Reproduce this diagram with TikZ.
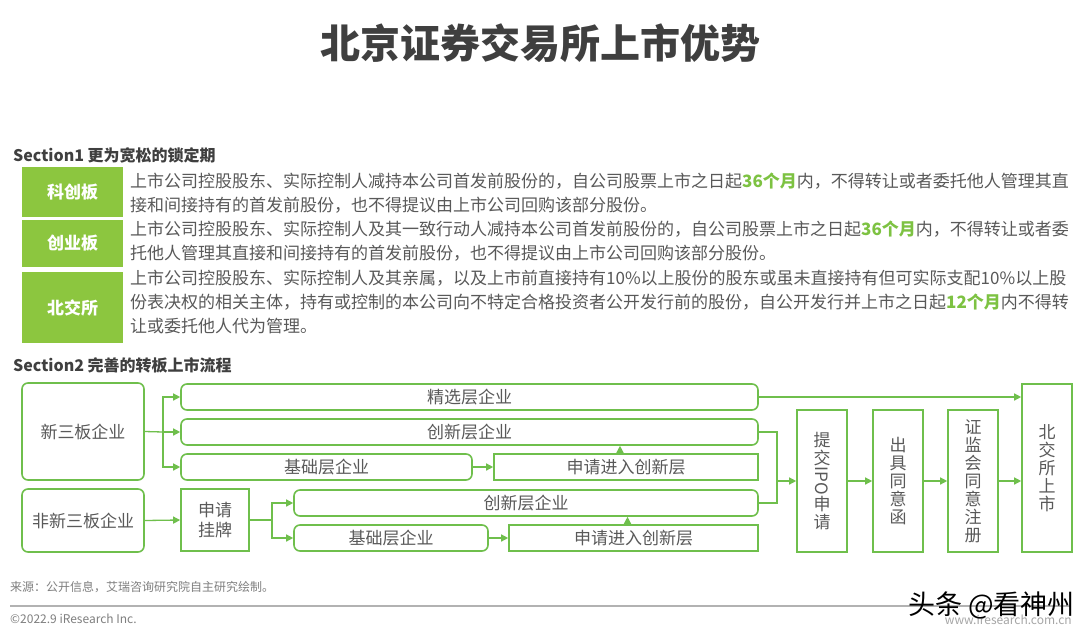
\documentclass[tikz,border=0pt]{standalone}
\usepackage{fontspec}
\setmainfont{Noto Sans CJK SC}
\usepackage{xcolor}
\usepackage{tikz}
\usetikzlibrary{arrows.meta}

\definecolor{titlegray}{HTML}{3F3F3F}
\definecolor{textgray}{HTML}{595959}
\definecolor{tabgreen}{HTML}{8CC63F}
\definecolor{linegreen}{HTML}{6FBF4C}
\definecolor{numgreen}{HTML}{7DC242}
\definecolor{footgray}{HTML}{7F7F7F}

\newcommand{\mesi}[1]{{\bfseries\color{numgreen}#1}}

\tikzset{
    boxr/.style={draw=linegreen, line width=1.6pt, rounded corners=6pt, text=textgray,
        font=\fontsize{17}{20}\selectfont, inner sep=0pt, minimum height=26pt},
    boxq/.style={boxr, rounded corners=0pt},
    vbox/.style={boxq, minimum width=50pt, minimum height=142pt, align=center,
        font=\fontsize{17}{18}\selectfont},
    tag/.style={fill=tabgreen, text=white, font=\bfseries\fontsize{17}{20}\selectfont,
        minimum width=101pt, inner sep=0pt},
    para/.style={anchor=west, align=left, text=textgray, font=\fontsize{17}{24}\selectfont, inner sep=0pt},
    freccia/.style={draw=linegreen, line width=1.3pt, -{Triangle[length=7pt,width=7pt]}},
    linea/.style={draw=linegreen, line width=1.3pt}
}

\begin{document}
\begin{tikzpicture}[x=1pt, y=-1pt]
    \useasboundingbox[fill=white] (0,0) rectangle (1080,641);

    % Titolo
    \node[text=titlegray, font=\bfseries\fontsize{40}{44}\selectfont] (titolo) at (540,43) {北京证券交易所上市优势};

    % Sezione 1
    \node[anchor=west, text=titlegray, font=\bfseries\fontsize{16}{18}\selectfont, inner sep=0pt] (sez1) at (13,155) {Section1 更为宽松的锁定期};
    \node[tag, minimum height=50pt] (kc) at (72.5,192) {科创板};
    \node[tag, minimum height=47pt] (cy) at (72.5,243.5) {创业板};
    \node[tag, minimum height=71pt] (bs) at (72.5,307.5) {北交所};
    \node[para] (tkc) at (130,193) {上市公司控股股东、实际控制人减持本公司首发前股份的，自公司股票上市之日起\mesi{36个月}内，不得转让或者委托他人管理其直\\接和间接持有的首发前股份，也不得提议由上市公司回购该部分股份。};
    \node[para] (tcy) at (130,241.5) {上市公司控股股东、实际控制人及其一致行动人减持本公司首发前股份的，自公司股票上市之日起\mesi{36个月}内，不得转让或者委\\托他人管理其直接和间接持有的首发前股份，也不得提议由上市公司回购该部分股份。};
    \node[para] (tbs) at (130,302) {上市公司控股股东、实际控制人及其亲属，以及上市前直接持有10\%以上股份的股东或虽未直接持有但可实际支配10\%以上股\\份表决权的相关主体，持有或控制的本公司向不特定合格投资者公开发行前的股份，自公开发行并上市之日起\mesi{12个月}内不得转\\让或委托他人代为管理。};

    % Sezione 2
    \node[anchor=west, text=titlegray, font=\bfseries\fontsize{16}{18}\selectfont, inner sep=0pt] (sez2) at (13,365) {Section2 完善的转板上市流程};
    \node[boxr, minimum width=122pt, minimum height=97pt] (xsb) at (83,431.5) {新三板企业};
    \node[boxr, minimum width=122pt, minimum height=63pt] (fxsb) at (83,520.5) {非新三板企业};
    \node[boxr, minimum width=577pt] (jxc) at (469.5,397) {精选层企业};
    \node[boxr, minimum width=577pt] (cxc1) at (469.5,432) {创新层企业};
    \node[boxr, minimum width=291pt] (jcc1) at (326.5,467) {基础层企业};
    \node[boxq, minimum width=264pt] (sq1) at (626,467) {申请进入创新层};
    \node[boxq, minimum width=68pt, minimum height=62pt, align=center] (gp) at (215,520) {申请\\挂牌};
    \node[boxr, minimum width=464pt] (cxc2) at (526,503) {创新层企业};
    \node[boxr, minimum width=194pt] (jcc2) at (391,538) {基础层企业};
    \node[boxq, minimum width=249pt] (sq2) at (633.5,538) {申请进入创新层};
    \node[vbox] (ipo) at (822,481) {提\\交\\\rotatebox[origin=c]{-90}{IPO}\\申\\请};
    \node[vbox] (cj) at (898,481) {出\\具\\同\\意\\函};
    \node[vbox] (zj) at (973,481) {证\\监\\会\\同\\意\\注\\册};
    \node[vbox, minimum height=168pt] (bj) at (1047,468) {北\\交\\所\\上\\市};

    % Collegamenti
    \coordinate (s1) at (163,432);
    \coordinate (s2) at (272,520);
    \coordinate (m1) at (777,481);
    \draw[linea] (xsb.east) -- (s1);
    \draw[freccia] (s1) |- (jxc.west);
    \draw[freccia] (s1) -- (cxc1.west);
    \draw[freccia] (s1) |- (jcc1.west);
    \draw[freccia] (jcc1.east) -- (sq1.west);
    \draw[freccia] ([xshift=-6pt]sq1.north) -- ([xshift=-6pt]sq1.north |- cxc1.south);
    \draw[freccia] (fxsb.east) -- (gp.west);
    \draw[linea] (gp.east) -- (s2);
    \draw[freccia] (s2) |- (cxc2.west);
    \draw[freccia] (s2) |- (jcc2.west);
    \draw[freccia] (jcc2.east) -- (sq2.west);
    \draw[freccia] ([xshift=-6pt]sq2.north) -- ([xshift=-6pt]sq2.north |- cxc2.south);
    \draw[freccia] (jxc.east) -- (jxc.east -| bj.west);
    \draw[linea] (cxc1.east) -| (m1);
    \draw[linea] (cxc2.east) -| (m1);
    \draw[freccia] (m1) -- (ipo.west);
    \draw[freccia] (ipo.east) -- (cj.west);
    \draw[freccia] (cj.east) -- (zj.west);
    \draw[freccia] (zj.east) -- (zj.east -| bj.west);

    % Piede
    \node[anchor=west, text=footgray, font=\fontsize{12}{14}\selectfont, inner sep=0pt] (fonte) at (10,587) {来源：公开信息，艾瑞咨询研究院自主研究绘制。};
    \coordinate (l1) at (10,606);
    \coordinate (l2) at (1070,606);
    \draw[draw=black!30, line width=1.5pt] (l1) -- (l2);
    \node[anchor=west, text=footgray, font=\fontsize{12}{14}\selectfont, inner sep=0pt] (copy) at (10,619) {©2022.9 iResearch Inc.};
    \node[anchor=east, text=black!35, font=\fontsize{12}{14}\selectfont, inner sep=0pt] (sito) at (1072,620) {www.iresearch.com.cn};
    \node[anchor=east, text=black, font=\fontsize{27}{29}\selectfont, inner sep=0pt] (marchio) at (1075,605) {头条 @看神州};
\end{tikzpicture}
\end{document}
